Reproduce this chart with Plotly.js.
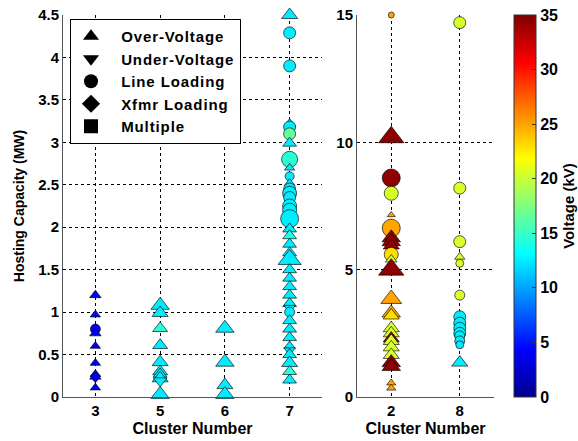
<!DOCTYPE html>
<html>
<head>
<meta charset="utf-8">
<script src="https://cdn.plot.ly/plotly-3.0.1.min.js"></script>
<style>html,body{margin:0;padding:0;background:#fff;}#chart{width:578px;height:441px;}
.legendtext{letter-spacing:0.9px;}</style>
</head>
<body>
<div id="chart"></div>
<script>
// ---- Data ----
// Left panel: clusters 3, 5, 6, 7
const leftCluster = [
  '3','3','3','3','3','3','3','3','3','3',
  '5','5','5','5','5','5','5','5','5','5',
  '6','6','6','6',
  '7','7','7','7','7','7','7','7','7','7','7','7','7','7','7','7','7','7','7','7',
  '7','7','7','7','7','7','7','7','7','7','7','7','7','7','7','7','7','7'
];
const leftCap = [
  1.20,0.97,0.80,0.75,0.60,0.40,0.27,0.22,0.24,0.11,
  1.08,0.99,0.81,0.61,0.41,0.30,0.27,0.22,0.19,0.03,
  0.81,0.41,0.14,0.03,
  4.50,4.29,3.90,3.22,3.18,3.10,2.99,2.80,2.70,2.60,2.52,2.45,2.40,2.35,2.25,2.20,2.10,1.98,1.90,1.80,
  1.70,1.62,1.50,1.40,1.30,1.20,1.10,1.05,1.00,0.90,0.80,0.70,0.60,0.55,0.50,0.40,0.30,0.20
];
const leftVolt = [
  4.16,4.16,4.16,4.16,4.16,4.16,4.16,4.16,4.16,4.16,
  12.47,12.47,14.5,12.47,12.47,12.47,12.47,12.47,12.47,12.47,
  12.47,12.47,12.47,12.47,
  12.47,12.47,12.47,12.47,12.47,16.5,12.47,14.5,12.47,12.47,12.47,12.47,12.47,12.47,12.47,12.47,12.47,12.47,14,12.47,
  12.47,12.47,12.47,12.47,12.47,12.47,12.47,12.47,12.47,12.47,12.47,12.47,12.47,12.47,12.47,12.47,14.5,12.47
];
const leftType = [
  'OV','OV','LL','OV','OV','OV','OV','UV','OV','OV',
  'OV','OV','OV','OV','OV','OV','OV','OV','UV','OV',
  'OV','OV','OV','OV',
  'OV','LL','LL','OV','LL','LL','OV','LL','OV','LL','OV','LL','LL','LL','LL','LL','LL','OV','OV','OV',
  'OV','OV','OV','OV','OV','OV','OV','UV','LL','OV','OV','OV','OV','UV','OV','OV','OV','OV'
];
const leftSize = [
  10,9,10,10,9,9,9,9,10,9,
  16,14,13,13,14,13,12,14,12,16,
  16,16,14,16,
  14,12,12,10,12,12,12,16,9,9,9,12,14,12,14,14,18,12,12,12,
  12,20,12,12,12,12,12,10,10,12,12,12,10,10,12,14,12,12
];

// Right panel: clusters 2, 8
const rightCluster = [
  '2','2','2','2','2','2','2','2','2','2','2','2','2','2','2','2','2','2','2','2','2','2','2','2','2',
  '8','8','8','8','8','8','8','8','8','8','8','8','8','8'
];
const rightCap = [
  15.0,10.2,8.6,8.0,7.15,6.63,6.25,6.1,5.95,5.6,5.4,5.0,3.85,3.3,3.2,2.7,2.5,2.3,2.2,1.95,1.65,1.35,1.2,0.55,0.35,
  14.7,8.2,6.1,5.5,5.25,4.0,3.15,2.9,2.7,2.5,2.4,2.2,2.05,1.35
];
const rightVolt = [
  25,34.5,34.5,20.5,25,25,34.5,34.5,34.5,23,20.5,34.5,25,25,23,20.5,20.5,34.5,20.5,20.5,20.5,34.5,34.5,25,25,
  20.5,20.5,20.5,20.5,20.5,20.5,12.47,12.47,12.47,12.47,12.47,12.47,12.47,12.47
];
const rightType = [
  'LL','OV','LL','LL','OV','LL','OV','OV','OV','LL','OV','OV','OV','OV','OV','OV','OV','OV','OV','OV','OV','OV','OV','OV','OV',
  'LL','LL','LL','OV','LL','LL','LL','LL','LL','LL','LL','LL','LL','OV'
];
const rightSize = [
  6,22,18,14,7,18,16,16,14,14,10,22,18,16,14,14,14,14,14,14,14,16,16,8,8,
  12,12,12,9,8,10,12,12,12,12,10,10,8,14
];

const legendNames = ['Over-Voltage','Under-Voltage','Line Loading','Xfmr Loading','Multiple'];
const legendSymbols = ['triangle-up','triangle-down','circle','diamond','square'];
const typeSymbol = {OV:'triangle-up', UV:'triangle-down', LL:'circle', XL:'diamond', MU:'square'};

const colorTicks = [0,5,10,15,20,25,30,35];
const leftTicks = [0,0.5,1,1.5,2,2.5,3,3.5,4,4.5];
const rightTicks = [0,5,10,15];

// MATLAB-like jet colour scale
const jet = [[0,'rgb(0,0,143)'],[0.125,'rgb(0,0,255)'],[0.375,'rgb(0,255,255)'],
             [0.625,'rgb(255,255,0)'],[0.875,'rgb(255,0,0)'],[1,'rgb(128,0,0)']];

const W = 578, H = 441;
const FONT = 'Liberation Sans, Arial, sans-serif';

const traces = [];
traces.push({
  type:'scatter', mode:'markers', xaxis:'x', yaxis:'y', showlegend:false, cliponaxis:false,
  x:leftCluster, y:leftCap,
  marker:{symbol:leftType.map(t=>typeSymbol[t]), size:leftSize, color:leftVolt, opacity:1,
    colorscale:jet, cmin:0, cmax:35, line:{color:'rgba(0,0,0,0.8)', width:0.8}}
});
traces.push({
  type:'scatter', mode:'markers', xaxis:'x2', yaxis:'y2', showlegend:false, cliponaxis:false,
  x:rightCluster, y:rightCap,
  marker:{symbol:rightType.map(t=>typeSymbol[t]), size:rightSize, color:rightVolt, opacity:1,
    colorscale:jet, cmin:0, cmax:35, line:{color:'rgba(0,0,0,0.8)', width:0.8},
    showscale:true,
    colorbar:{x:514/W, xanchor:'left', xpad:0, ypad:0, y:(H-15)/H, yanchor:'top',
      len:382, lenmode:'pixels', thickness:22, thicknessmode:'pixels',
      outlinewidth:1, outlinecolor:'#333', tickvals:colorTicks, ticks:'inside', ticklen:4, tickcolor:'#333',
      tickfont:{family:FONT, size:16, color:'#000', weight:'bold'},
      title:{text:'Voltage (kV)', side:'right', font:{family:FONT, size:15, color:'#000', weight:'bold'}}}
  }
});
legendNames.forEach((n,i)=>{
  traces.push({type:'scatter', mode:'markers', xaxis:'x', yaxis:'y', name:'\u00a0\u00a0'+n, legendgroup:'g'+i,
    x:[null], y:[null], marker:{symbol:legendSymbols[i], size:14, color:'#000'}});
});

const gridStyle = {showgrid:true, gridcolor:'#000', gridwidth:1, griddash:'3px,3px', zeroline:false,
  showline:true, linecolor:'#555', linewidth:1, mirror:false, ticks:'',
  tickfont:{family:FONT, size:15, color:'#000', weight:'bold'}};

const layout = {
  width:W, height:H, margin:{l:0,r:0,t:0,b:0}, paper_bgcolor:'#fff', plot_bgcolor:'#fff',
  showlegend:true,
  legend:{x:70/W, y:(H-19)/H, xanchor:'left', yanchor:'top', bgcolor:'#fff', bordercolor:'#000', borderwidth:1,
    font:{family:FONT, size:15, color:'#000', weight:'bold'}, tracegroupgap:0, itemsizing:'trace'},
  xaxis:Object.assign({}, gridStyle, {domain:[63/W, 322/W], type:'category', categoryarray:['3','5','6','7'],
    categoryorder:'array', range:[-0.5,3.5], anchor:'y',
    title:{text:'Cluster Number', standoff:4, font:{family:FONT, size:16, color:'#000', weight:'bold'}}}),
  yaxis:Object.assign({}, gridStyle, {domain:[(H-397)/H, (H-15)/H], range:[0,4.5], tickvals:leftTicks, anchor:'x',
    title:{text:'Hosting Capacity (MW)', standoff:10, font:{family:FONT, size:14, color:'#000', weight:'bold'}}}),
  xaxis2:Object.assign({}, gridStyle, {domain:[357/W, 494/W], type:'category', categoryarray:['2','8'],
    categoryorder:'array', range:[-0.5,1.5], anchor:'y2',
    title:{text:'Cluster Number', standoff:4, font:{family:FONT, size:16, color:'#000', weight:'bold'}}}),
  yaxis2:Object.assign({}, gridStyle, {domain:[(H-397)/H, (H-15)/H], range:[0,15], tickvals:rightTicks, anchor:'x2'})
};

Plotly.newPlot('chart', traces, layout, {displayModeBar:false, staticPlot:true});
</script>
</body>
</html>
